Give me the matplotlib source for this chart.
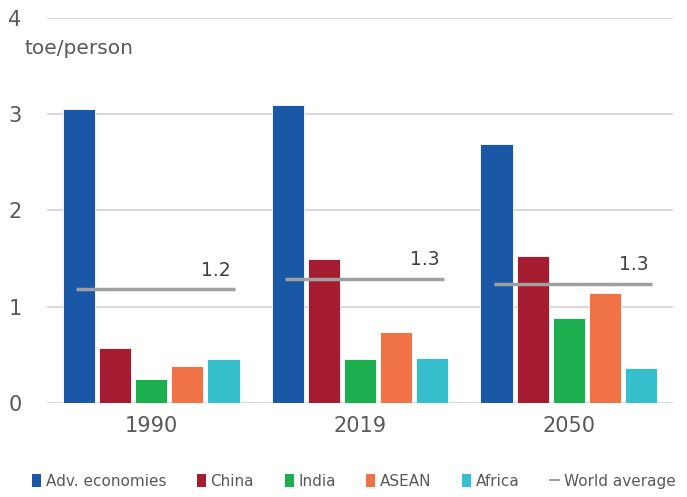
import numpy as np
import matplotlib
matplotlib.use("Agg")
import matplotlib.pyplot as plt
from matplotlib.lines import Line2D
from matplotlib.patches import Patch

plt.rcParams['font.family'] = ['DejaVu Sans']

years = ["1990", "2019", "2050"]
regions = ["Adv. economies", "China", "India", "ASEAN", "Africa"]
adv = [3.05, 3.10, 2.69]
china = [0.57, 1.50, 1.53]
india = [0.25, 0.46, 0.88]
asean = [0.39, 0.74, 1.14]
africa = [0.46, 0.47, 0.36]
world = [1.18, 1.29, 1.24]
world_labels = ["1.2", "1.3", "1.3"]

colors = ["#1A58A7", "#A51C30", "#1CAF50", "#F07348", "#36C0CD"]
grey = "#A0A0A0"
txt = "#595959"

fig = plt.figure(figsize=(6.87, 4.97), dpi=100)
ax = fig.add_axes([0.068, 0.189, 0.912, 0.775])

x = np.arange(len(years))
slot = 0.173
width = 0.155
series = [adv, china, india, asean, africa]
for i, vals in enumerate(series):
    ax.bar(x + (i - 2) * slot, vals, width, color=colors[i],
           edgecolor="white", linewidth=0.6, zorder=3)

# world average line per year
for k in range(len(years)):
    x0 = x[k] - 0.36
    x1 = x[k] + 0.40
    ax.plot([x0, x1], [world[k], world[k]], color=grey, lw=2.5,
            solid_capstyle="butt", zorder=4)
    ax.annotate(world_labels[k], xy=(x1, world[k]), xytext=(-3, 7),
                textcoords="offset points", ha="right", va="bottom",
                fontsize=13.5, color="#404040")

ax.set_xlim(-0.5, 2.5)
ax.set_ylim(0, 4)
ax.set_yticks([0, 1, 2, 3, 4])
ax.set_xticks(x)
ax.set_xticklabels(years)
ax.yaxis.grid(True, color="#D9D9D9", lw=1.5, zorder=0)
ax.set_axisbelow(True)
for s in ax.spines.values():
    s.set_visible(False)
ax.tick_params(axis="y", length=0, pad=18, labelsize=15, labelcolor=txt)
ax.tick_params(axis="x", length=0, pad=9, labelsize=15, labelcolor=txt)

fig.text(25 / 687, 1 - 48 / 497, "toe/person", fontsize=14.5,
         color=txt, va="center", ha="left")

handles = [Patch(facecolor=c, edgecolor="none") for c in colors]
handles.append(Line2D([0], [0], color=grey, lw=1.5))
labels = regions + ["World average"]
fig.legend(handles, labels, loc="center", bbox_to_anchor=(0.515, 0.032),
           ncol=6, frameon=False, fontsize=11, handlelength=0.6,
           handleheight=0.9, handletextpad=0.3, columnspacing=2.0,
           labelcolor=txt)

fig.savefig("out.png", dpi=100)
